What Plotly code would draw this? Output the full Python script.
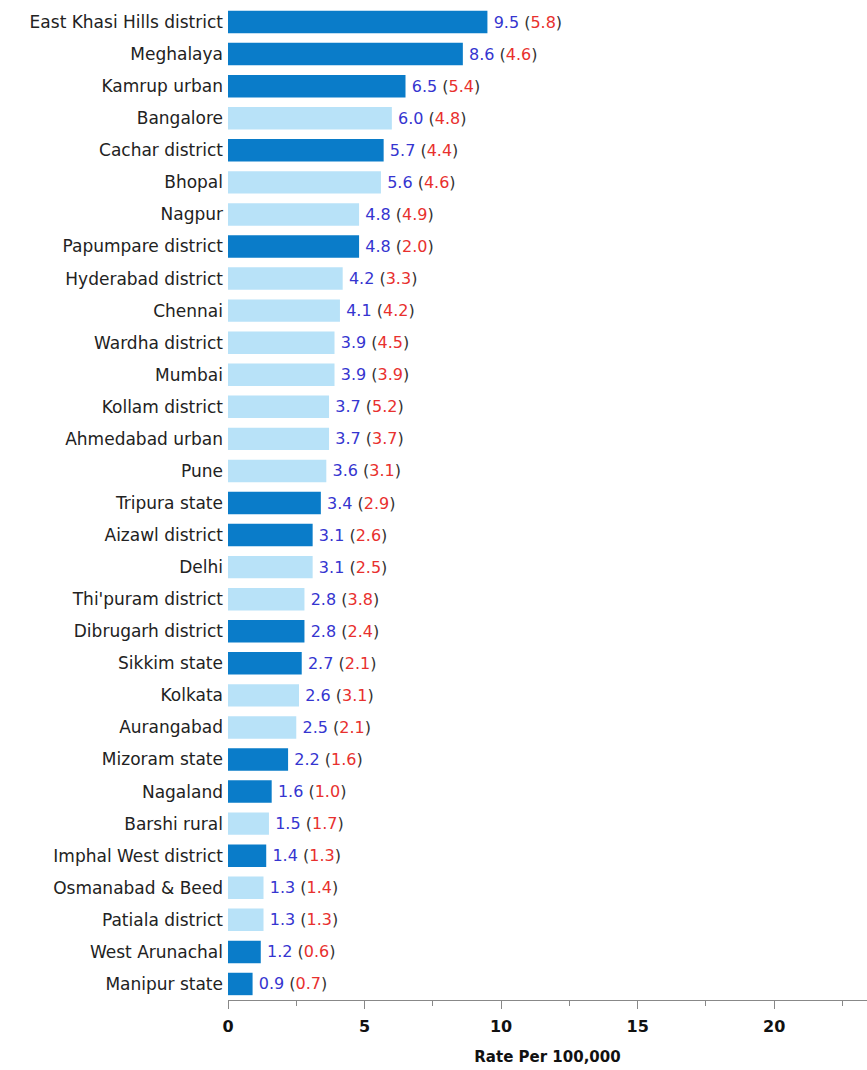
import plotly.graph_objects as go

categories = ["East Khasi Hills district", "Meghalaya", "Kamrup urban", "Bangalore", "Cachar district",
              "Bhopal", "Nagpur", "Papumpare district", "Hyderabad district", "Chennai",
              "Wardha district", "Mumbai", "Kollam district", "Ahmedabad urban", "Pune",
              "Tripura state", "Aizawl district", "Delhi", "Thi'puram district", "Dibrugarh district",
              "Sikkim state", "Kolkata", "Aurangabad", "Mizoram state", "Nagaland",
              "Barshi rural", "Imphal West district", "Osmanabad & Beed", "Patiala district",
              "West Arunachal", "Manipur state"]
rates = [9.5, 8.6, 6.5, 6.0, 5.7, 5.6, 4.8, 4.8, 4.2, 4.1, 3.9, 3.9, 3.7, 3.7, 3.6,
         3.4, 3.1, 3.1, 2.8, 2.8, 2.7, 2.6, 2.5, 2.2, 1.6, 1.5, 1.4, 1.3, 1.3, 1.2, 0.9]
paren_rates = [5.8, 4.6, 5.4, 4.8, 4.4, 4.6, 4.9, 2.0, 3.3, 4.2, 4.5, 3.9, 5.2, 3.7, 3.1,
               2.9, 2.6, 2.5, 3.8, 2.4, 2.1, 3.1, 2.1, 1.6, 1.0, 1.7, 1.3, 1.4, 1.3, 0.6, 0.7]
northeast = ["East Khasi Hills district", "Meghalaya", "Kamrup urban", "Cachar district",
             "Papumpare district", "Tripura state", "Aizawl district", "Dibrugarh district",
             "Sikkim state", "Mizoram state", "Nagaland", "Imphal West district",
             "West Arunachal", "Manipur state"]

DARK = "#0A7CC9"
LIGHT = "#B8E2F8"
BLUE_TXT = "#3535D0"
RED_TXT = "#E8302E"
PAREN = "#333333"
FONT = "DejaVu Sans, sans-serif"

colors = [DARK if c in northeast else LIGHT for c in categories]
texts = [f"\u2009<span style='color:{BLUE_TXT}'>{r:.1f}</span> <span style='color:{PAREN}'>(</span>"
         f"<span style='color:{RED_TXT}'>{p:.1f}</span><span style='color:{PAREN}'>)</span>"
         for r, p in zip(rates, paren_rates)]

fig = go.Figure(go.Bar(
    y=categories, x=rates, orientation="h",
    marker=dict(color=colors, line=dict(width=0)),
    width=0.7,
    text=texts, textposition="outside", cliponaxis=False,
    textfont=dict(family=FONT, size=16, color=BLUE_TXT),
))

fig.update_layout(
    width=867, height=1070,
    margin=dict(l=228, r=0, t=6, b=70),
    paper_bgcolor="white", plot_bgcolor="white",
    showlegend=False,
    font=dict(family=FONT, color="#222222"),
)
fig.update_yaxes(
    categoryorder="array", categoryarray=categories, autorange="reversed",
    showline=False, ticks="", tickfont=dict(size=17, color="#222222"),
    ticklabelstandoff=4, showgrid=False,
)
fig.update_xaxes(
    range=[0, 23.4], showgrid=False, zeroline=False,
    showline=True, linecolor="#888888", linewidth=1,
    tickvals=[0, 5, 10, 15, 20], ticks="outside", ticklen=8, tickcolor="#888888",
    ticklabelstandoff=4,
    tickfont=dict(size=16, color="#111111", family=FONT, weight="bold"),
    minor=dict(tickvals=[2.5, 7.5, 12.5, 17.5, 22.5], ticks="outside", ticklen=5, tickcolor="#888888"),
    title=dict(text="<b>Rate Per 100,000</b>", font=dict(size=15, color="#111111"), standoff=16),
)

fig.write_html("out.html", config={"displayModeBar": False},
               post_script="document.body.style.margin='0';")
